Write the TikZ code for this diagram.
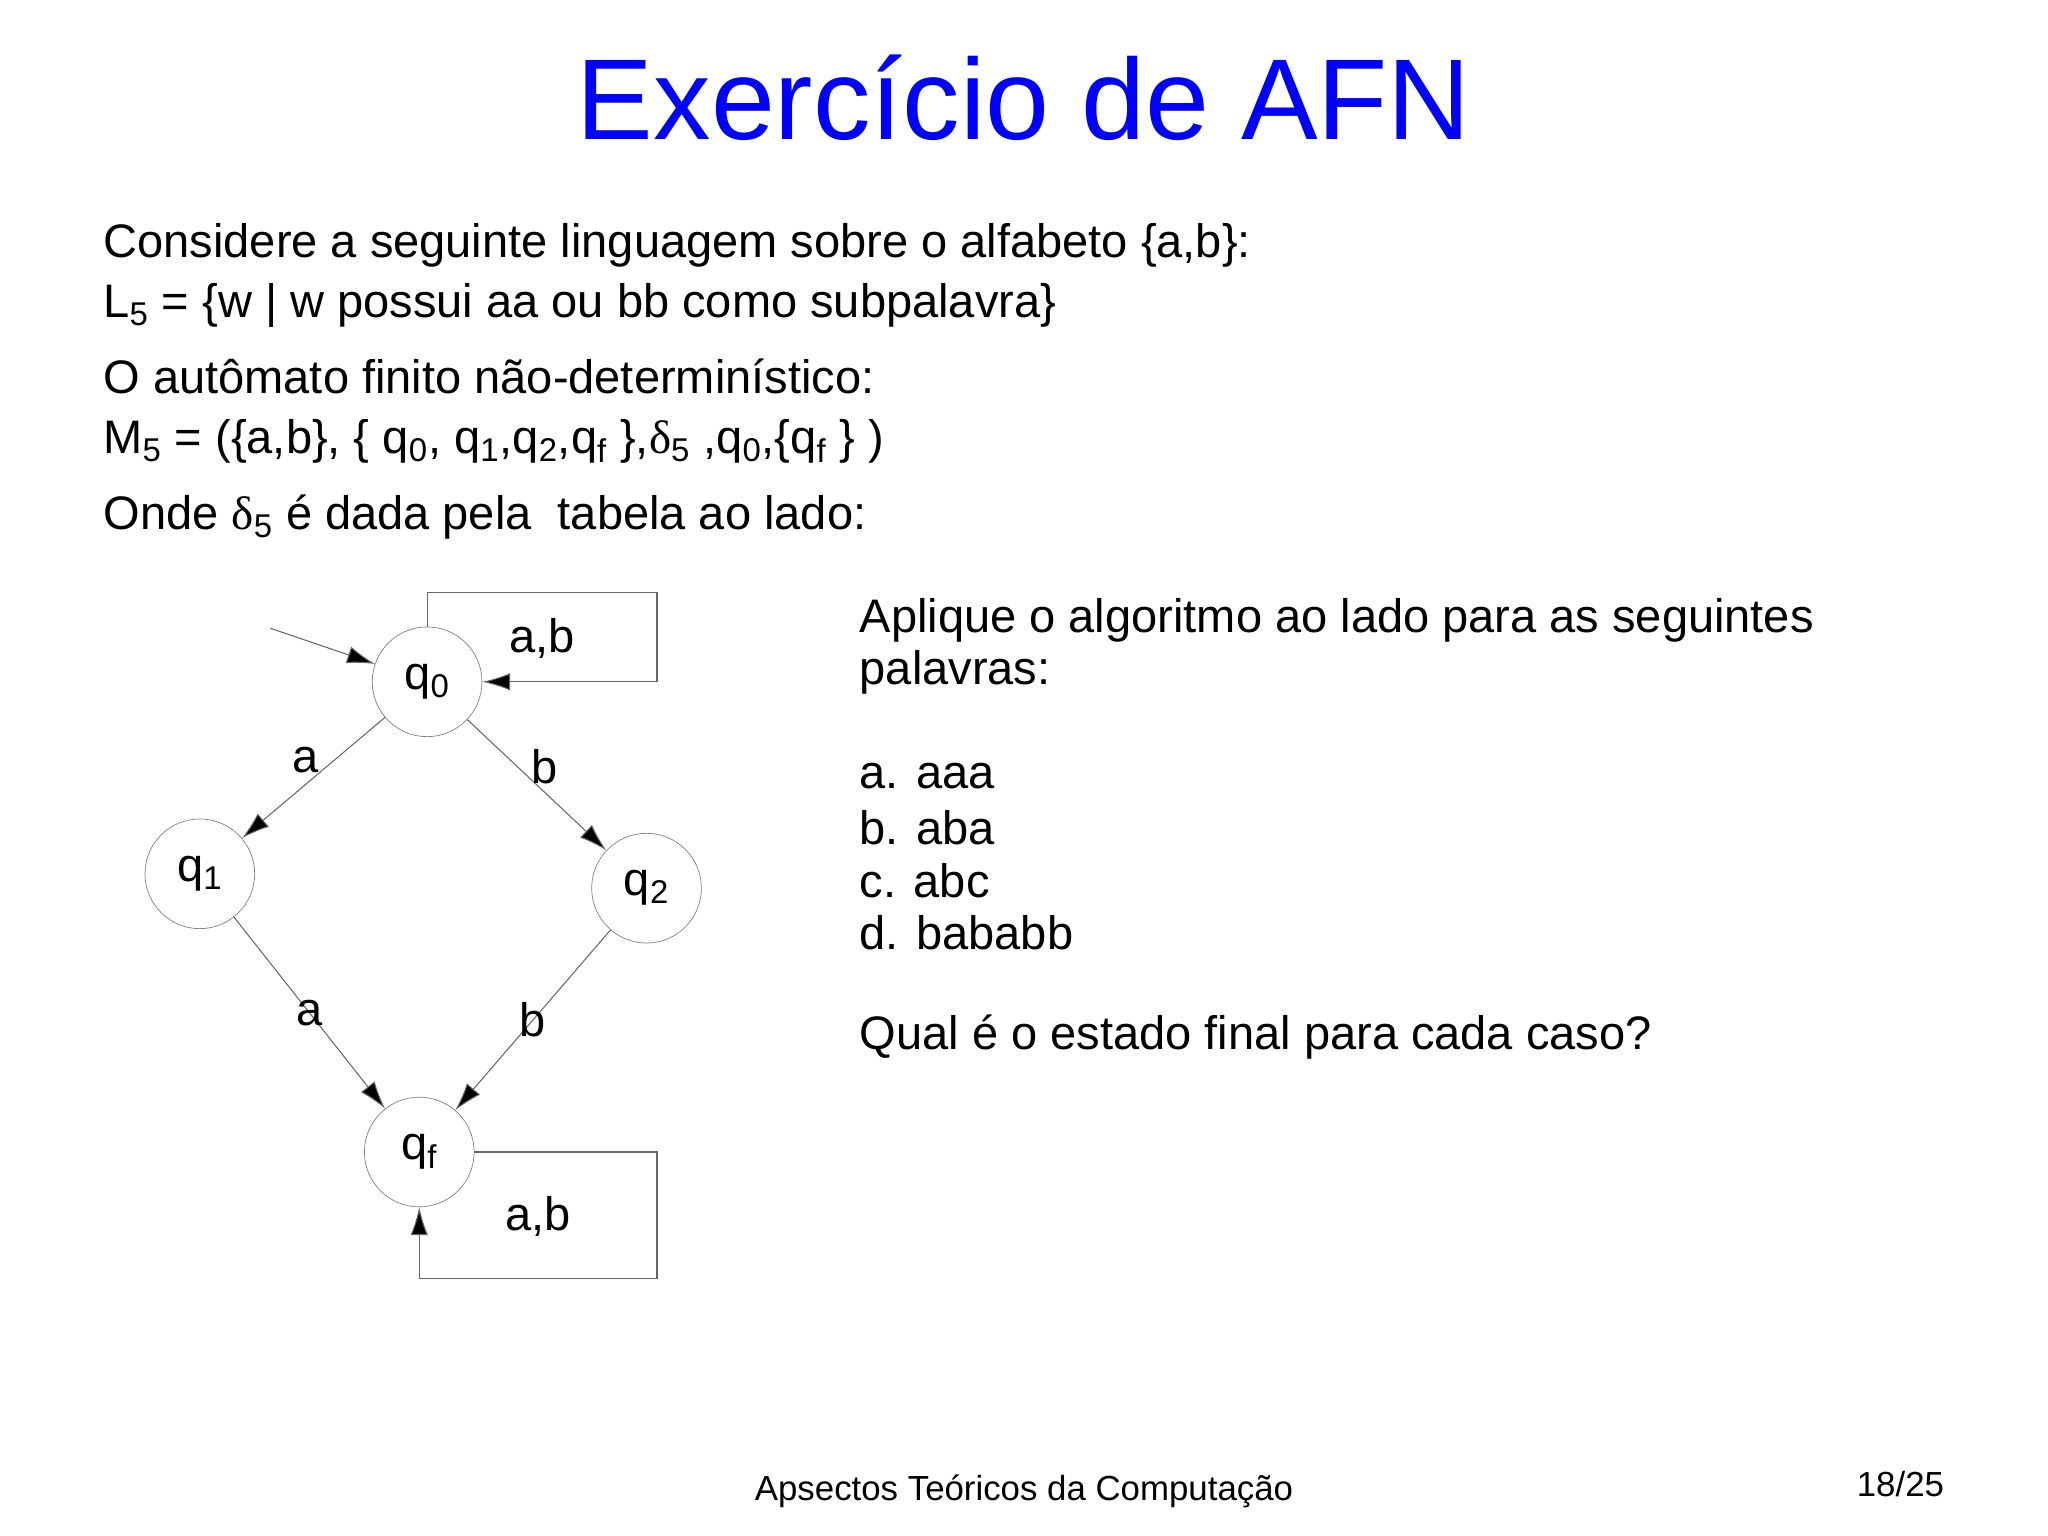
\documentclass[tikz,border=0pt]{standalone}
\usepackage{fontspec}
\setmainfont{Liberation Sans}
\newfontfamily\grk{Liberation Serif}
\usetikzlibrary{arrows.meta}
\newcommand{\sbs}[1]{\textsubscript{#1}}
\newcommand{\dlt}{{\grk δ}}
\begin{document}
\begin{tikzpicture}[x=0.75pt,y=-0.75pt,
  st/.style={circle,draw=gray,minimum size=84*0.75pt,inner sep=0pt,font=\fontsize{27}{30}\selectfont},
  ed/.style={draw=gray!80!black,line width=0.6pt,-{Latex[length=16pt,width=10pt,fill=black]}},
  lb/.style={font=\fontsize{27}{30}\selectfont},
  tx/.style={anchor=west,font=\fontsize{27}{30}\selectfont,inner sep=0pt}]
\useasboundingbox (0,0) rectangle (1568,1176);
\node[font=\fontsize{66}{70}\selectfont,text=blue] (title) at (784,75) {Exercício de AFN};
\node[tx] (l1) at (79,188) {Considere a seguinte linguagem sobre o alfabeto \{a,b\}:};
\node[tx] (l2) at (79,234) {L\sbs{5} = \{w | w possui aa ou bb como subpalavra\}};
\node[tx] (l3) at (79,288) {O autômato finito não-determinístico:};
\node[tx] (l4) at (79,338) {M\sbs{5} = (\{a,b\}, \{ q\sbs{0}, q\sbs{1},q\sbs{2},q\sbs{f} \},\dlt\sbs{5} ,q\sbs{0},\{q\sbs{f} \} )};
\node[tx] (l5) at (79,396) {Onde \dlt\sbs{5} é dada pela\ \ tabela ao lado:};
\node[tx] (r1) at (658,475) {Aplique o algoritmo ao lado para as seguintes};
\node[tx] (r2) at (658,515) {palavras:};
\node[tx] (r3) at (658,594) {a. aaa};
\node[tx] (r4) at (658,634) {b. aba};
\node[tx] (r5) at (658,674) {c. abc};
\node[tx] (r6) at (658,714) {d. bababb};
\node[tx] (r7) at (658,794) {Qual é o estado final para cada caso?};
\node[font=\fontsize{20}{24}\selectfont] (foot) at (784,1142) {Apsectos Teóricos da Computação};
\node[font=\fontsize{20}{24}\selectfont] (pg) at (1455,1136) {18/25};
\node[st] (q0) at (327,522) {q\sbs{0}};
\node[st] (q1) at (153,669) {q\sbs{1}};
\node[st] (q2) at (495,680) {q\sbs{2}};
\node[st] (qf) at (321,882) {q\sbs{f}};
\coordinate (init) at (207,481);
\draw[ed] (init) -- (q0);
\draw[ed] (q0) -- (q1);
\draw[ed] (q0) -- (q2);
\draw[ed] (q1) -- (qf);
\draw[ed] (q2) -- (qf);
\draw[ed] (q0.north) -- (327,454) -- (503,454) -- (503,522) -- (q0.east);
\draw[ed] (qf.east) -- (503,882) -- (503,979) -- (321,979) -- (qf.south);
\node[lb] at (415,489) {a,b};
\node[lb] at (412,931) {a,b};
\node[lb] at (234,582) {a};
\node[lb] at (417,587) {b};
\node[lb] at (237,776) {a};
\node[lb] at (408,781) {b};
\end{tikzpicture}
\end{document}
